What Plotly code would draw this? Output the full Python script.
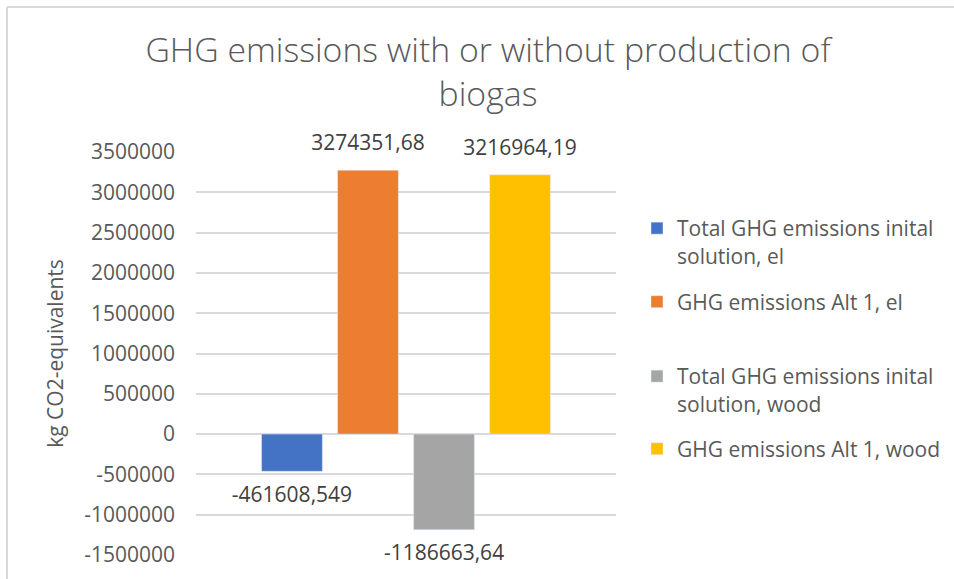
import plotly.graph_objects as go

# ---- data ----
category = ["GHG"]
series_names = [
    "Total GHG emissions inital<br>solution, el",
    "GHG emissions Alt 1, el",
    "Total GHG emissions inital<br>solution, wood",
    "GHG emissions Alt 1, wood",
]
values_init_el = [-461608.549]
values_alt1_el = [3274351.68]
values_init_wood = [-1186663.64]
values_alt1_wood = [3216964.19]
tick_values = [-1500000, -1000000, -500000, 0, 500000, 1000000, 1500000,
               2000000, 2500000, 3000000, 3500000]
tick_labels = ["-1500000", "-1000000", "-500000", "0", "500000", "1000000",
               "1500000", "2000000", "2500000", "3000000", "3500000"]

colors = ["#4472C4", "#ED7D31", "#A5A5A5", "#FFC000"]
all_values = [values_init_el, values_alt1_el, values_init_wood, values_alt1_wood]

W, H = 954, 579
L, R, T, B = 196, 616, 152, 555  # plot area in px

def fmt(v):
    return f"{v:.9g}".replace(".", ",")

FONT = "Open Sans"
GAP = 0.276
fig = go.Figure()
legend_ids = ["legend", "legend2", "legend3", "legend4"]
for name, vals, col, lg in zip(series_names, all_values, colors, legend_ids):
    fig.add_trace(go.Bar(
        x=category, y=vals, name=name, marker_color=col, legend=lg,
        hoverinfo="skip",
    ))
# data labels (Excel "outside end" style), grouped like the bars
for vals in all_values:
    fig.add_trace(go.Scatter(
        x=category, y=vals, mode="text+markers",
        marker=dict(size=22, opacity=0),
        text=[fmt(v) for v in vals],
        textposition=["top center" if v >= 0 else "bottom center" for v in vals],
        textfont=dict(family=FONT, size=21, color="#404040"),
        cliponaxis=False, showlegend=False, hoverinfo="skip",
    ))

def px2x(px):
    return (px - L) / (R - L)

def px2y(py):
    return (B - py) / (B - T)

legend_centers = [242, 302, 390, 449]
legend_common = dict(font=dict(family=FONT, size=21, color="#595959"),
                     bgcolor="rgba(0,0,0,0)", valign="top",
                     xanchor="left", yanchor="middle", x=px2x(637))
layout_legends = {}
for lg, cy in zip(legend_ids, legend_centers):
    layout_legends[lg] = dict(legend_common, y=px2y(cy))

fig.update_layout(
    width=W, height=H,
    margin=dict(l=L, r=W - R, t=T, b=H - B, autoexpand=False),
    paper_bgcolor="white", plot_bgcolor="white",
    barmode="group", bargap=GAP, bargroupgap=0.2,
    scattermode="group", scattergap=GAP,
    title=dict(text="GHG emissions with or without production of<br>biogas",
               x=488 / W, xanchor="center", xref="container",
               y=1 - 62 / H, yanchor="top", yref="container",
               font=dict(family=FONT, size=33.8, color="#595959", weight=300)),
    xaxis=dict(showticklabels=False, showgrid=False, zeroline=False,
               showline=False, ticks=""),
    yaxis=dict(range=[-1500000, 3500000], tickmode="array",
               tickvals=tick_values, ticktext=tick_labels,
               showgrid=True, gridcolor="#D9D9D9", gridwidth=1.5,
               zeroline=False, showline=False, ticks="",
               ticklabelstandoff=20,
               tickfont=dict(family=FONT, size=21, color="#595959"),
               title=dict(text="kg CO2-equivalents", standoff=14,
                          font=dict(family=FONT, size=21, color="#595959"))),
    showlegend=True,
    **layout_legends,
)

# chart-area frame (top and left edges visible in the reference)
frame = dict(color="#D9D9D9", width=2)
fig.add_shape(type="line", xref="paper", yref="paper",
              x0=px2x(7), x1=px2x(7), y0=px2y(H + 5), y1=px2y(7), line=frame)
fig.add_shape(type="line", xref="paper", yref="paper",
              x0=px2x(7), x1=px2x(W + 5), y0=px2y(7), y1=px2y(7), line=frame)

fig.write_html("out.html", config={"displayModeBar": False},
               post_script="document.body.style.margin='0';")
